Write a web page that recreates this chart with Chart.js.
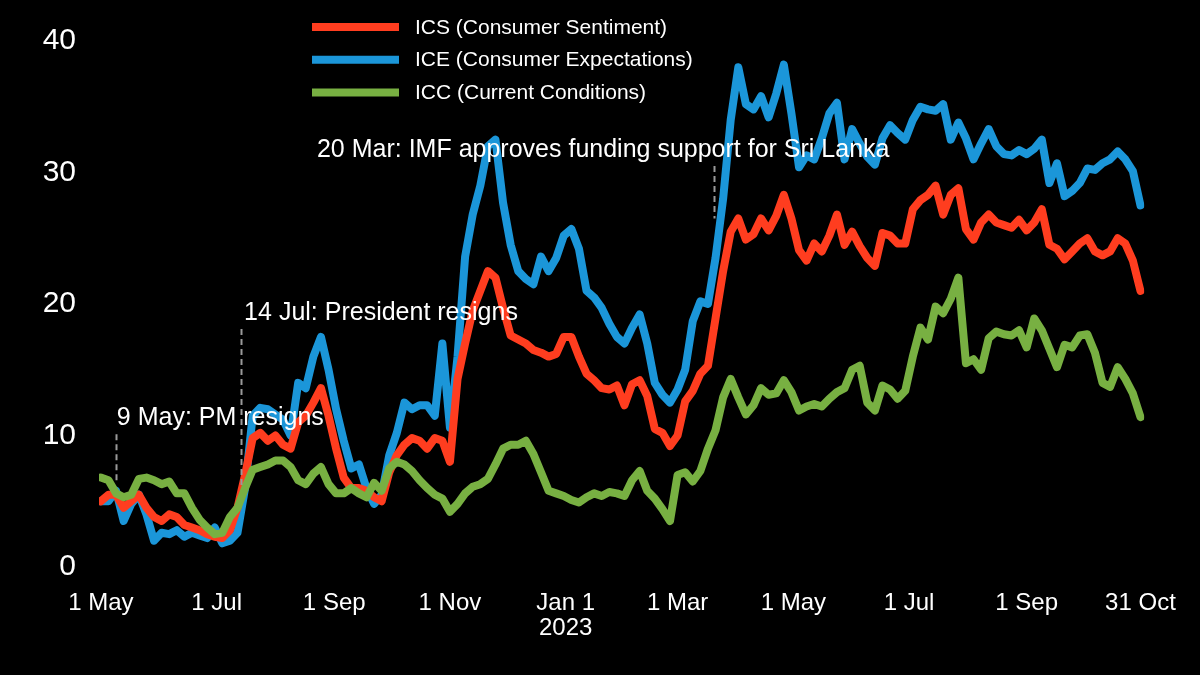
<!DOCTYPE html>
<html>
<head>
<meta charset="utf-8">
<script src="https://cdn.jsdelivr.net/npm/chart.js@4.4.1/dist/chart.umd.min.js"></script>
<style>
  html, body { margin: 0; padding: 0; background: #000; }
  #wrap { width: 1200px; height: 675px; position: relative; }
</style>
</head>
<body>
<div id="wrap"><canvas id="myChart"></canvas></div>
<script>
'use strict';

const FONT = "Arial, 'Liberation Sans', sans-serif";

// days since 1 May 2022
const days = [0, 4, 8, 12, 16, 20, 24, 28, 32, 36, 40, 44, 48, 52, 56, 60, 64, 68, 72, 76,
  80, 84, 88, 92, 96, 100, 104, 108, 112, 116, 120, 124, 128, 132, 136, 140, 144, 148, 152, 156,
  160, 164, 168, 172, 176, 180, 184, 188, 192, 196, 200, 204, 208, 212, 216, 220, 224, 228, 232, 236,
  240, 244, 248, 252, 256, 260, 264, 268, 272, 276, 280, 284, 288, 292, 296, 300, 304, 308, 312, 316,
  320, 324, 328, 332, 336, 340, 344, 348, 352, 356, 360, 364, 368, 372, 376, 380, 384, 388, 392, 396,
  400, 404, 408, 412, 416, 420, 424, 428, 432, 436, 440, 444, 448, 452, 456, 460, 464, 468, 472, 476,
  480, 484, 488, 492, 496, 500, 504, 508, 512, 516, 520, 524, 528, 532, 536, 540, 544, 548];

const ics = [5.0, 5.5, 5.5, 4.5, 5.0, 5.5, 4.5, 3.8, 3.5, 4.0,
  3.8, 3.2, 3.0, 2.8, 2.5, 2.3, 2.2, 2.8, 4.5, 7.0,
  9.8, 10.2, 9.6, 10.0, 9.3, 9.0, 11.0, 11.5, 12.5, 13.6,
  11.5, 9.0, 6.8, 6.0, 6.0, 5.8, 5.3, 5.0, 7.2, 8.5,
  9.3, 9.8, 9.6, 9.0, 9.8, 9.6, 8.0, 14.3, 17.0, 19.5,
  21.0, 22.5, 22.0, 19.7, 17.6, 17.3, 17.0, 16.5, 16.3, 16.0,
  16.2, 17.5, 17.5, 16.0, 14.7, 14.2, 13.6, 13.5, 13.8, 12.3,
  13.9, 14.2, 13.0, 10.5, 10.2, 9.2, 10.0, 12.6, 13.4, 14.7,
  15.3, 18.9, 22.5, 25.5, 26.5, 24.9, 25.3, 26.5, 25.6, 26.7,
  28.3, 26.5, 24.1, 23.3, 24.6, 24.0, 25.2, 26.8, 24.5, 25.5,
  24.4, 23.5, 22.9, 25.4, 25.2, 24.6, 24.6, 27.2, 27.9, 28.3,
  29.0, 26.8, 28.3, 28.8, 25.7, 24.9, 26.2, 26.8, 26.2, 26.0,
  25.8, 26.4, 25.6, 26.2, 27.2, 24.5, 24.2, 23.4, 24.0, 24.6,
  25.0, 24.0, 23.7, 24.0, 25.0, 24.6, 23.3, 21.0];

const ice = [5.0, 5.0, 5.8, 3.5, 4.8, 5.5, 4.0, 2.0, 2.6, 2.5,
  2.8, 2.3, 2.6, 2.4, 2.2, 3.0, 1.8, 2.0, 2.6, 6.0,
  11.5, 12.1, 12.0, 11.6, 11.2, 10.0, 14.0, 13.6, 16.0, 17.5,
  15.0, 12.0, 9.6, 7.5, 7.8, 6.0, 4.8, 5.5, 8.5, 10.2,
  12.5, 12.0, 12.3, 12.3, 11.5, 17.0, 10.6, 16.0, 23.6, 26.8,
  29.0, 32.0, 32.5, 27.7, 24.5, 22.5, 21.9, 21.5, 23.6, 22.5,
  23.5, 25.2, 25.7, 24.2, 21.0, 20.5, 19.7, 18.5, 17.5, 17.0,
  18.2, 19.2, 17.0, 14.0, 13.1, 12.5, 13.5, 15.0, 18.7, 20.2,
  20.0, 23.5, 28.0, 34.0, 38.0, 35.2, 34.8, 35.8, 34.2, 36.0,
  38.2, 34.5, 30.4, 31.3, 31.0, 32.6, 34.5, 35.3, 31.0, 33.3,
  32.2, 31.2, 30.6, 32.6, 33.6, 33.0, 32.5, 34.0, 35.0, 34.8,
  34.7, 35.2, 32.5, 33.8, 32.6, 31.0, 32.2, 33.3, 32.0, 31.4,
  31.3, 31.7, 31.4, 31.8, 32.5, 29.2, 30.7, 28.2, 28.6, 29.2,
  30.3, 30.2, 30.7, 31.0, 31.6, 31.0, 30.1, 27.5];

const icc = [6.8, 6.6, 5.6, 5.3, 5.5, 6.7, 6.8, 6.6, 6.3, 6.5,
  5.6, 5.6, 4.5, 3.6, 3.0, 2.5, 2.6, 3.8, 4.5, 6.0,
  7.4, 7.6, 7.8, 8.1, 8.1, 7.6, 6.6, 6.3, 7.1, 7.6,
  6.3, 5.6, 5.6, 6.0, 5.6, 5.3, 6.4, 5.8, 7.5, 8.0,
  7.8, 7.3, 6.6, 6.0, 5.5, 5.2, 4.2, 4.8, 5.6, 6.1,
  6.3, 6.7, 7.8, 9.0, 9.3, 9.3, 9.6, 8.6, 7.2, 5.8,
  5.6, 5.4, 5.1, 4.9, 5.3, 5.6, 5.4, 5.7, 5.6, 5.4,
  6.6, 7.3, 5.8, 5.2, 4.4, 3.5, 7.0, 7.2, 6.5, 7.3,
  9.0, 10.4, 12.9, 14.3, 12.9, 11.6, 12.3, 13.6, 13.1, 13.2,
  14.2, 13.3, 11.9, 12.2, 12.4, 12.2, 12.8, 13.3, 13.6, 15.0,
  15.3, 12.5, 11.9, 13.8, 13.5, 12.8, 13.4, 16.0, 18.2, 17.3,
  19.8, 19.3, 20.4, 22.0, 15.5, 15.8, 15.0, 17.4, 17.9, 17.7,
  17.6, 18.0, 16.7, 18.9, 18.0, 16.6, 15.2, 16.9, 16.7, 17.6,
  17.7, 16.3, 14.0, 13.7, 15.2, 14.3, 13.2, 11.4];

const tickDays = [0, 61, 123, 184, 245, 304, 365, 426, 488, 548];
const tickLabels = ['1 May', '1 Jul', '1 Sep', '1 Nov', ['Jan 1', '2023'], '1 Mar', '1 May', '1 Jul', '1 Sep', '31 Oct'];

const seriesNames = ['ICS (Consumer Sentiment)', 'ICE (Consumer Expectations)', 'ICC (Current Conditions)'];

// events: dashed marker from/to (index value), label anchor in days / index value
const events = [
  { day: 8, from: 6.3, to: 10.1, text: '9 May: PM resigns', textDay: 8.4, textY: 11.3 },
  { day: 74, from: 6.0, to: 18.1, text: '14 Jul: President resigns', textDay: 75.5, textY: 19.3 },
  { day: 323, from: 26.5, to: 30.5, text: '20 Mar: IMF approves funding support for Sri Lanka', textDay: 113.9, textY: 31.7 }
];

const toPoints = arr => arr.map((v, i) => ({ x: days[i], y: v }));

const lineStyle = {
  borderWidth: 8,
  pointRadius: 0,
  tension: 0,
  borderJoinStyle: 'round',
  borderCapStyle: 'round',
  fill: false
};

const data = {
  datasets: [
    { label: seriesNames[0], data: toPoints(ics), borderColor: '#ff3d1f', order: 1, ...lineStyle },
    { label: seriesNames[1], data: toPoints(ice), borderColor: '#1b96d9', order: 2, ...lineStyle },
    { label: seriesNames[2], data: toPoints(icc), borderColor: '#78b042', order: 0, ...lineStyle }
  ]
};

// black page
const background = {
  id: 'background',
  beforeDraw(chart) {
    const { ctx, width, height } = chart;
    ctx.save();
    ctx.fillStyle = '#000';
    ctx.fillRect(0, 0, width, height);
    ctx.restore();
  }
};

// event markers + labels
const eventMarkers = {
  id: 'eventMarkers',
  afterDatasetsDraw(chart) {
    const { ctx, scales: { x, y } } = chart;
    ctx.save();
    ctx.strokeStyle = '#9a9a9a';
    ctx.lineWidth = 2;
    ctx.setLineDash([6, 4]);
    events.forEach(ev => {
      const px = Math.round(x.getPixelForValue(ev.day)) + 0.5;
      ctx.beginPath();
      ctx.moveTo(px, y.getPixelForValue(ev.to));
      ctx.lineTo(px, y.getPixelForValue(ev.from));
      ctx.stroke();
    });
    ctx.setLineDash([]);
    ctx.fillStyle = '#fff';
    ctx.font = '25px ' + FONT;
    ctx.textAlign = 'left';
    ctx.textBaseline = 'middle';
    events.forEach(ev => {
      ctx.fillText(ev.text, x.getPixelForValue(ev.textDay), y.getPixelForValue(ev.textY));
    });
    ctx.restore();
  }
};

// stacked legend at the top
const stackedLegend = {
  id: 'stackedLegend',
  afterDraw(chart) {
    const { ctx } = chart;
    ctx.save();
    ctx.font = '21px ' + FONT;
    ctx.textBaseline = 'middle';
    ctx.textAlign = 'left';
    chart.data.datasets.forEach((ds, i) => {
      const cy = 27 + i * 32.7;
      ctx.strokeStyle = ds.borderColor;
      ctx.lineWidth = 8;
      ctx.beginPath();
      ctx.moveTo(312, cy);
      ctx.lineTo(399, cy);
      ctx.stroke();
      ctx.fillStyle = '#fff';
      ctx.fillText(ds.label, 415, cy + 1);
    });
    ctx.restore();
  }
};

const config = {
  type: 'line',
  data,
  options: {
    responsive: true,
    maintainAspectRatio: false,
    animation: false,
    layout: { padding: { top: 38, right: 51, bottom: 0, left: 0 } },
    plugins: {
      legend: { display: false },
      tooltip: { enabled: false }
    },
    scales: {
      x: {
        type: 'linear',
        min: -1,
        max: 550,
        afterBuildTicks: scale => { scale.ticks = tickDays.map(v => ({ value: v })); },
        afterFit: scale => { scale.height = 108; },
        grid: { display: false, drawTicks: false },
        border: { display: false },
        ticks: {
          autoSkip: false,
          maxRotation: 0,
          color: '#fff',
          padding: 24,
          font: { family: FONT, size: 24, lineHeight: 1.05 },
          callback: value => {
            const i = tickDays.indexOf(value);
            return i >= 0 ? tickLabels[i] : '';
          }
        }
      },
      y: {
        min: 0,
        max: 40,
        afterFit: scale => { scale.width = 99; },
        grid: { display: false, drawTicks: false },
        border: { display: false },
        ticks: {
          stepSize: 10,
          color: '#fff',
          padding: 23,
          font: { family: FONT, size: 30 }
        }
      }
    }
  },
  plugins: [background, eventMarkers, stackedLegend]
};

const myChart = new Chart(document.getElementById('myChart'), config);
</script>
</body>
</html>
